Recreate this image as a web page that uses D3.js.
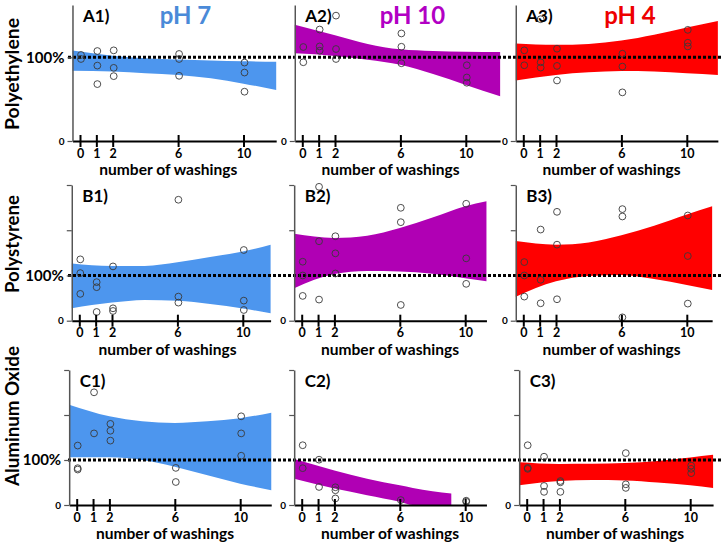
<!DOCTYPE html>
<html><head><meta charset="utf-8">
<script src="https://cdn.jsdelivr.net/npm/d3@7"></script>
<style>body{margin:0;background:#fff} svg{display:block} text{font-family:Lato,"Open Sans",sans-serif;}</style>
</head><body><svg id="c" width="721" height="544"></svg>
<script>
// ---------------- data ----------------
const washings = [0, 1, 2, 6, 10];
const rowNames = ["Polyethylene", "Polystyrene", "Aluminum Oxide"];
const panelLabels = [["A1)", "A2)", "A3)"], ["B1)", "B2)", "B3)"], ["C1)", "C2)", "C3)"]];
const phTitles = ["pH 7", "pH 10", "pH 4"];
const bandColors = ["#4d96ee", "#b000b4", "#ff0000"];
const titleColors = ["#4a8ad8", "#b200c4", "#ee0000"];
const rowMax = [162.5, 300, 300];
const xTickLabels = ["0", "1", "2", "6", "10"];

// measured points (% of initial), grouped by number of washings
const A1_pts = [[102.8, 98], [107.5, 90.1, 68], [108.3, 87.4, 77.5], [104, 98, 77.9], [93.7, 81.8, 58.9]];
const A2_pts = [[112.3, 94.1], [133.2, 113, 107.9], [149.8, 109.9, 98], [128.5, 112.6, 92.9], [90.5, 75.9, 69.6]];
const A3_pts = [[108.3, 90.5], [145.5, 94, 87.7], [110.3, 89.7, 72.3], [104.3, 88.9, 58.1], [132.8, 117.4, 113]];
const B1_pts = [[135.6, 105.2, 59.3], [85.2, 74.1, 19.3], [120, 27.4, 21.5], [267.4, 53.3, 40], [156.3, 44.4, 23.7]];
const B2_pts = [[130.4, 100, 54.8], [296, 175.6, 46.7], [186.7, 148.9, 104.4], [249.6, 217.8, 34.8], [258.5, 137.8, 81.5]];
const B3_pts = [[129.6, 100, 53.3], [201.5, 90.4, 38.5], [240.7, 168.1, 47.4], [246.7, 230.4, 7.4], [232.6, 143, 37.8]];
const C1_pts = [[132.1, 81.8, 78.8], [250.4, 159.1], [180.3, 165, 143.1], [82.5, 51.1], [197.1, 159.1, 109.5]];
const C2_pts = [[132.8, 81.8], [100.7, 40.1], [39.4, 32.8, 14.6], [11.0], [9.5, 7.3]];
const C3_pts = [[132.8, 82.5, 80.3], [107.3, 42.3, 29.2], [53.3, 50.4, 29.2], [115.3, 46, 38], [87.6, 80.3, 70.8]];

// confidence bands
const A1_bandX = [-0.46, 2, 4, 6, 8, 10, 12];
const A1_upper = [108, 102, 99, 97.5, 96.2, 95.3, 94.8];
const A1_lower = [84, 83, 81, 79, 75, 68.5, 61];
const A2_bandX = [-0.46, 2, 4, 6, 8, 10, 12.1];
const A2_upper = [139, 126.5, 116, 109.5, 107.5, 106.7, 106.3];
const A2_lower = [104.7, 101.6, 97, 91, 80, 67, 53.4];
const A3_bandX = [-0.46, 2, 4, 6, 8, 10, 11.9];
const A3_upper = [116.6, 115, 116, 120, 127, 135.5, 143.5];
const A3_lower = [72.3, 79, 82, 83.5, 83, 81, 79];
const B1_bandX = [-0.46, 2, 4, 6, 8, 10, 11.7];
const B1_upper = [126.7, 121, 121, 129, 141, 153, 168];
const B1_lower = [27.4, 40, 46, 44, 37, 27, 16.5];
const B2_bandX = [-0.46, 2, 4, 6, 8, 10, 11.3];
const B2_upper = [192, 183, 188, 205, 228, 253, 264];
const B2_lower = [72, 103, 110, 109, 104, 94, 87];
const B3_bandX = [-0.46, 2, 4, 6, 8, 10, 11.55];
const B3_upper = [176, 168, 173, 189, 210, 235, 253];
const B3_lower = [53, 87, 99, 101, 92, 79, 68];
const C1_bandX = [-0.46, 2, 4, 6, 8, 10, 11.9];
const C1_upper = [222.6, 197, 186, 182.5, 186, 193, 205];
const C1_lower = [106, 106, 100, 85, 66, 47.4, 33];
const C2_bandX = [-0.46, 2, 4, 6, 6.8, 8, 9.15];
const C2_upper = [102, 76.6, 58.4, 43.8, 38, 30.7, 25.5];
const C2_lower = [58.4, 36.5, 21.9, 7.3, 0, 0, 0];
const C3_bandX = [-0.46, 2, 4, 6, 8, 10, 11.4];
const C3_upper = [94.9, 91.2, 91.5, 93.4, 98, 105.8, 111.7];
const C3_lower = [43.8, 53.3, 55.5, 54.7, 50, 43.8, 38];

const axisEnds = [[12, 12.1, 11.9], [11.7, 11.3, 11.55], [11.9, 11.3, 11.4]];

const panelData = [
  [[A1_pts, A1_bandX, A1_upper, A1_lower], [A2_pts, A2_bandX, A2_upper, A2_lower], [A3_pts, A3_bandX, A3_upper, A3_lower]],
  [[B1_pts, B1_bandX, B1_upper, B1_lower], [B2_pts, B2_bandX, B2_upper, B2_lower], [B3_pts, B3_bandX, B3_upper, B3_lower]],
  [[C1_pts, C1_bandX, C1_upper, C1_lower], [C2_pts, C2_bandX, C2_upper, C2_lower], [C3_pts, C3_bandX, C3_upper, C3_lower]]
];

// ---------------- layout ----------------
const rowAxisY = [141, 320.7, 505];
const rowTopY = [5, 185, 370];
const zeroX = [[80, 302.3, 523.3], [79.3, 301.7, 523.3], [76.7, 301.7, 526.7]];
const unit = 16.35;
const xStart = -0.46;
const rowTitleY = [74, 244, 416];
const rowTitleLen = [112, 98, 140];

const svg = d3.select("#c");
const defs = svg.append("defs");
defs.append("filter").attr("id", "blur").attr("x", "-5%").attr("y", "-200%").attr("width", "110%").attr("height", "500%")
  .append("feGaussianBlur").attr("stdDeviation", 1.2);

const bandLayer = svg.append("g");
const lineLayer = svg.append("g");
const pointLayer = svg.append("g");
const axisLayer = svg.append("g");
const textLayer = svg.append("g");

panelData.forEach((row, r) => {
  const y = d3.scaleLinear().domain([0, rowMax[r]]).range([rowAxisY[r], rowTopY[r]]);
  row.forEach((pd, c) => {
    const [pts, bx, up, lo] = pd;
    const z = zeroX[r][c];
    const end = axisEnds[r][c];
    const x = d3.scaleLinear().domain([xStart, end]).range([z + xStart * unit, z + end * unit]);

    // band
    const band = bx.map((v, i) => ({x: v, u: up[i], l: lo[i]}));
    const area = d3.area().x(d => x(d.x)).y0(d => y(d.l)).y1(d => y(d.u)).curve(d3.curveMonotoneX);
    bandLayer.append("path").datum(band).attr("d", area).attr("fill", bandColors[c]);

    // points
    const flat = [];
    pts.forEach((arr, i) => arr.forEach(v => flat.push({x: washings[i], v})));
    pointLayer.selectAll(null).data(flat).join("circle")
      .attr("cx", d => x(d.x) + 1).attr("cy", d => y(d.v)).attr("r", 3.4)
      .attr("fill", "none").attr("stroke", "#3a3a3a").attr("stroke-width", 0.9);

    // x axis
    const xa = axisLayer.append("g").attr("transform", `translate(0,${rowAxisY[r]})`)
      .call(d3.axisBottom(x).tickValues(washings).tickSizeInner(6).tickSizeOuter(0)
        .tickFormat((d, i) => xTickLabels[i]));
    xa.select(".domain").attr("stroke", "#000").attr("stroke-width", 2);
    xa.selectAll(".tick line").attr("y1", -6).attr("y2", 6).attr("stroke", "#000").attr("stroke-width", 2);
    xa.selectAll(".tick text").attr("y", 16.5).attr("dy", null)
      .attr("font-size", 12.5).attr("font-weight", "bold").attr("fill", "#000")
      .attr("font-family", "Lato, 'Open Sans', sans-serif");

    // y axis
    let tv;
    if (r === 0) { tv = c === 0 ? [0, 100] : [0]; }
    else { tv = c === 0 ? [0, 100, 200, 300] : [0, 200, 300]; }
    const ya = axisLayer.append("g").attr("transform", `translate(${z + xStart * unit},0)`)
      .call(d3.axisLeft(y).tickValues(tv).tickSizeInner(5).tickSizeOuter(0)
        .tickFormat(d => d === 0 ? "0" : (d === 100 ? "100%" : "")));
    ya.select(".domain").attr("stroke", "#555").attr("stroke-width", 1.5);
    ya.selectAll(".tick line").attr("stroke", "#555").attr("stroke-width", 1.2);
    ya.selectAll(".tick text").attr("font-weight", "bold").attr("fill", "#000")
      .attr("font-family", "Lato, 'Open Sans', sans-serif")
      .attr("font-size", d => d === 0 ? 10 : 15);

    // axis title
    textLayer.append("text").attr("x", x(5.4)).attr("y", rowAxisY[r] + 34)
      .attr("text-anchor", "middle").attr("font-size", 14.5).attr("font-weight", "bold")
      .attr("textLength", 138).attr("lengthAdjust", "spacingAndGlyphs")
      .text("number of washings");

    // panel label
    textLayer.append("text").attr("x", z + 3).attr("y", rowTopY[r] + 17)
      .attr("font-size", 17).attr("font-weight", "bold").text(panelLabels[r][c]);
  });

  // dotted 100% reference line
  lineLayer.append("line").attr("x1", 66).attr("x2", 721).attr("y1", y(100) + 2.5).attr("y2", y(100) + 2.5)
    .attr("stroke", "#9a9a9a").attr("stroke-width", 3).attr("opacity", 0.6).attr("filter", "url(#blur)");
  lineLayer.append("line").attr("x1", 68).attr("x2", 721).attr("y1", y(100)).attr("y2", y(100))
    .attr("stroke", "#000").attr("stroke-width", 3).attr("stroke-dasharray", "3,2");

  // row title
  textLayer.append("text").attr("transform", `translate(18.5,${rowTitleY[r]}) rotate(-90)`)
    .attr("text-anchor", "middle").attr("font-size", 18).attr("font-weight", "bold")
    .attr("textLength", rowTitleLen[r]).attr("lengthAdjust", "spacingAndGlyphs")
    .text(rowNames[r]);
});

// pH titles
const titleX = [185.5, 412.5, 630];
phTitles.forEach((t, i) => {
  textLayer.append("text").attr("x", titleX[i]).attr("y", 24).attr("text-anchor", "middle")
    .attr("font-size", 24).attr("font-weight", "bold").attr("fill", titleColors[i]).text(t);
});
</script></body></html>
